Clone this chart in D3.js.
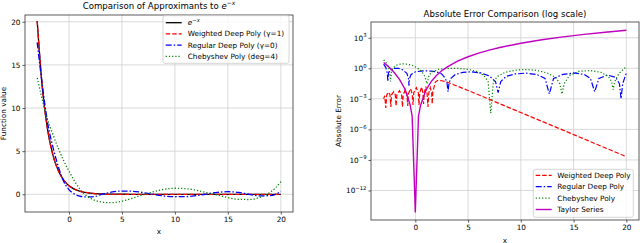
<!DOCTYPE html>
<html>
<head>
<meta charset="utf-8">
<script src="https://cdn.jsdelivr.net/npm/d3@7"></script>
<style>
  body { margin: 0; background: #fff; }
  svg { display: block; font-family: "DejaVu Sans", sans-serif; }
</style>
</head>
<body>
<svg id="chart" width="640" height="243"></svg>
<script>
// ---- left panel: approximant values ----
const xs = [-3, -2.5, -2, -1.5, -1, -0.5, 0, 0.5, 1, 1.5, 2, 2.5, 3, 3.5, 4, 5, 6, 7, 8, 9, 10, 11, 12, 13, 14, 15, 16, 17, 18, 19, 19.5, 20];
const expVals = [20.09, 12.18, 7.39, 4.48, 2.72, 1.65, 1.0, 0.61, 0.37, 0.22, 0.14, 0.08, 0.05, 0.03, 0.02, 0.01, 0, 0, 0, 0, 0, 0, 0, 0, 0, 0, 0, 0, 0, 0, 0, 0];
const weightedVals = [20.08, 12.19, 7.38, 4.49, 2.71, 1.66, 0.99, 0.62, 0.36, 0.23, 0.13, 0.05, 0.01, 0, 0, 0, 0, 0, 0, 0, 0, 0, 0, 0, 0, 0, 0, 0, 0, 0, 0, 0];
const regularVals = [17.6, 12.5, 8.2, 5.4, 3.2, 1.5, 0.55, 0.05, -0.2, -0.3, -0.3, -0.25, -0.03, 0.12, 0.25, 0.38, 0.35, 0.2, -0.02, -0.2, -0.28, -0.27, -0.15, 0.03, 0.22, 0.3, 0.22, 0.0, -0.18, -0.15, 0.0, 0.35];
const chebVals = [13.5, 10.9, 8.6, 6.9, 5.3, 3.9, 2.7, 1.6, 0.65, 0.0, -0.45, -0.72, -0.88, -0.96, -0.97, -0.8, -0.45, -0.05, 0.3, 0.58, 0.7, 0.66, 0.47, 0.2, -0.08, -0.38, -0.58, -0.6, -0.35, 0.25, 0.75, 1.46];
const leftXTicks = [0, 5, 10, 15, 20];
const leftYTicks = [0, 5, 10, 15, 20];

// ---- right panel: absolute errors ----
const weightedErrX = [-3, -2.9, -2.8, -2.7, -2.55, -2.4, -2.32, -2.25, -2.05, -1.9, -1.82, -1.75, -1.5, -1.3, -1.22, -1.15, -0.95, -0.8, -0.72, -0.65, -0.45, -0.3, -0.22, -0.15, 0.1, 0.28, 0.35, 0.42, 0.6, 0.72, 0.78, 0.85, 1.0, 1.12, 1.2, 1.28, 1.42, 1.55, 1.6, 1.66, 1.9, 2.1, 2.5, 3, 5, 10, 15, 20];
const weightedErr = [1e-3, 2e-3, 1.3e-4, 2.5e-3, 4.5e-3, 2.5e-3, 1.6e-4, 2.5e-3, 5e-3, 2.5e-3, 2e-4, 2.5e-3, 6.3e-3, 2.5e-3, 1.6e-4, 2.5e-3, 8e-3, 3.2e-3, 2e-4, 3.2e-3, 0.01, 3.2e-3, 2.5e-4, 4e-3, 0.0126, 4e-3, 2.5e-4, 4e-3, 0.014, 4e-3, 3.2e-4, 4e-3, 0.016, 3.2e-3, 1.6e-4, 4e-3, 0.0126, 4e-3, 3.2e-4, 5e-3, 0.045, 0.063, 0.06, 0.045, 6.7e-3, 4.5e-5, 3.1e-7, 2.1e-9];

const regularErrX = [-3, -2.8, -2.65, -2.6, -2.55, -2.4, -2.0, -1.6, -1.2, -0.8, -0.65, -0.6, -0.55, -0.4, 0, 0.5, 1.0, 1.5, 2.0, 2.5, 2.85, 3.0, 3.1, 3.2, 3.4, 3.8, 4.5, 5.3, 6.2, 7.0, 7.6, 7.85, 8.1, 8.6, 9.5, 10.5, 11.5, 12.3, 12.7, 13.1, 14, 15, 16, 16.6, 17.0, 17.4, 18.2, 19.0, 19.35, 19.5, 19.65, 20];
const regularErr = [2.6, 1.26, 0.32, 0.05, 0.32, 0.71, 1.0, 1.0, 0.71, 0.32, 0.1, 0.02, 0.1, 0.25, 0.45, 0.54, 0.56, 0.54, 0.45, 0.28, 0.1, 0.04, 0.005, 0.04, 0.11, 0.25, 0.4, 0.45, 0.35, 0.18, 0.05, 0.004, 0.05, 0.16, 0.28, 0.34, 0.25, 0.1, 0.003, 0.1, 0.25, 0.35, 0.25, 0.1, 0.005, 0.1, 0.22, 0.13, 0.03, 0.001, 0.03, 0.35];

const chebErrX = [-3, -2.8, -2.6, -2.45, -2.35, -2.25, -2.1, -1.8, -1.3, -0.8, -0.3, 0.2, 0.6, 0.9, 1.1, 1.3, 1.6, 2.2, 3, 4, 5, 5.8, 6.5, 6.9, 7.15, 7.4, 7.8, 8.5, 9.5, 10.5, 11.5, 12.5, 13.3, 13.7, 13.9, 14.1, 14.6, 15.5, 16.6, 17.6, 18.3, 18.6, 18.75, 18.9, 19.3, 20];
const chebErr = [6.6, 4.0, 1.8, 0.63, 0.05, 0.5, 1.1, 2.0, 2.8, 2.6, 2.0, 1.1, 0.5, 0.16, 0.03, 0.2, 0.45, 0.8, 1.0, 1.0, 0.8, 0.5, 0.2, 0.05, 4e-5, 0.05, 0.16, 0.4, 0.66, 0.76, 0.63, 0.35, 0.13, 0.03, 0.003, 0.03, 0.2, 0.5, 0.6, 0.4, 0.16, 0.05, 0.008, 0.05, 0.32, 1.45];

const taylorErrX = [-3, -2.5, -2, -1.5, -1, -0.5, -0.3, 0, 0.3, 0.5, 1, 1.5, 2, 2.5, 3, 4, 5, 6, 7, 8, 10, 12, 14, 16, 18, 20];
const taylorErr = [3.7, 1.33, 0.39, 0.083, 0.01, 2.8e-4, 2e-5, 7e-15, 2e-5, 2.4e-4, 7.1e-3, 0.05, 0.2, 0.57, 1.33, 5.0, 13.7, 31, 61.4, 110, 291, 637, 1228, 2161, 3547, 5514];

const rightXTicks = [0, 5, 10, 15, 20];
const rightYTicks = [1e3, 1, 1e-3, 1e-6, 1e-9, 1e-12];

const leftSeries = [
  { name: "exp", vals: expVals, color: "#000000", dash: null, width: 1.3 },
  { name: "Weighted Deep Poly (γ=1)", vals: weightedVals, color: "#ff0000", dash: "4.5,2", width: 1.3 },
  { name: "Regular Deep Poly (γ=0)", vals: regularVals, color: "#0000ff", dash: "6,2,1.5,2", width: 1.3 },
  { name: "Chebyshev Poly (deg=4)", vals: chebVals, color: "#008000", dash: "1.2,2", width: 1.3 }
];

const rightSeries = [
  { name: "Weighted Deep Poly", xs: weightedErrX, vals: weightedErr, color: "#ff0000", dash: "4.5,2", width: 1.2 },
  { name: "Regular Deep Poly", xs: regularErrX, vals: regularErr, color: "#0000ff", dash: "6,2,1.5,2", width: 1.2 },
  { name: "Chebyshev Poly", xs: chebErrX, vals: chebErr, color: "#008000", dash: "1.2,2", width: 1.2 },
  { name: "Taylor Series", xs: taylorErrX, vals: taylorErr, color: "#bf00bf", dash: null, width: 1.4 }
];

const svg = d3.select("#chart");
const FONT = 7.3;
const SUP = 5.3;

// ---------- left panel ----------
const L = { left: 25, right: 293, top: 15, bottom: 212 };
const lx = d3.scaleLinear().domain([-4.15, 21.15]).range([L.left, L.right]);
const ly = d3.scaleLinear().domain([-2.05, 20.78]).range([L.bottom, L.top]);

const lg = svg.append("g");

// grid
lg.selectAll(".gx").data(leftXTicks).enter().append("line")
  .attr("x1", d => lx(d)).attr("x2", d => lx(d))
  .attr("y1", L.top).attr("y2", L.bottom)
  .attr("stroke", "#d0d0d0").attr("stroke-width", 0.8);
lg.selectAll(".gy").data(leftYTicks).enter().append("line")
  .attr("x1", L.left).attr("x2", L.right)
  .attr("y1", d => ly(d)).attr("y2", d => ly(d))
  .attr("stroke", "#d0d0d0").attr("stroke-width", 0.8);

const lineL = d3.line().x((d, i) => lx(xs[i])).y(d => ly(d)).curve(d3.curveMonotoneX);

svg.append("clipPath").attr("id", "lclip").append("rect")
  .attr("x", L.left).attr("y", L.top).attr("width", L.right - L.left).attr("height", L.bottom - L.top);

lg.selectAll(".series").data(leftSeries).enter().append("path")
  .attr("clip-path", "url(#lclip)")
  .attr("d", d => lineL(d.vals))
  .attr("fill", "none")
  .attr("stroke", d => d.color)
  .attr("stroke-width", d => d.width)
  .attr("stroke-dasharray", d => d.dash);

// axes
lg.append("g").attr("transform", `translate(0,${L.bottom})`)
  .call(d3.axisBottom(lx).tickValues(leftXTicks).tickSize(2.5).tickPadding(2));
lg.append("g").attr("transform", `translate(${L.left},0)`)
  .call(d3.axisLeft(ly).tickValues(leftYTicks).tickSize(2.5).tickPadding(2));

lg.append("rect")
  .attr("x", L.left).attr("y", L.top)
  .attr("width", L.right - L.left).attr("height", L.bottom - L.top)
  .attr("fill", "none").attr("stroke", "#333").attr("stroke-width", 0.8);

// titles and labels
const lt = lg.append("text").attr("x", (L.left + L.right) / 2).attr("y", 8.5)
  .attr("text-anchor", "middle").attr("font-size", 8.6);
lt.append("tspan").text("Comparison of Approximants to ");
lt.append("tspan").attr("font-style", "italic").text("e");
lt.append("tspan").attr("font-size", 6).attr("dy", -3.5).text("−");
lt.append("tspan").attr("font-size", 6).attr("font-style", "italic").text("x");

lg.append("text").attr("x", (L.left + L.right) / 2).attr("y", 234)
  .attr("text-anchor", "middle").attr("font-size", FONT).text("x");
lg.append("text").attr("transform", `translate(6,${(L.top + L.bottom) / 2}) rotate(-90)`)
  .attr("text-anchor", "middle").attr("font-size", FONT).text("Function value");

// legend
const legL = lg.append("g").attr("transform", "translate(163,15.7)");
legL.append("rect").attr("width", 126).attr("height", 47.6).attr("rx", 2)
  .attr("fill", "white").attr("fill-opacity", 0.8).attr("stroke", "#cccccc").attr("stroke-width", 0.8);
leftSeries.forEach((s, i) => {
  const yy = 7 + i * 11.2;
  legL.append("line").attr("x1", 2.7).attr("x2", 18.7).attr("y1", yy).attr("y2", yy)
    .attr("stroke", s.color).attr("stroke-width", s.width).attr("stroke-dasharray", s.dash);
  const t = legL.append("text").attr("x", 24.7).attr("y", yy + 2.6).attr("font-size", FONT);
  if (i === 0) {
    t.append("tspan").attr("font-style", "italic").text("e");
    t.append("tspan").attr("font-size", SUP).attr("dy", -3).text("−");
    t.append("tspan").attr("font-size", SUP).attr("font-style", "italic").text("x");
  } else {
    t.text(s.name);
  }
});

// ---------- right panel ----------
const R = { left: 371, right: 639, top: 22, bottom: 220 };
const rx = d3.scaleLinear().domain([-4.2, 21.2]).range([R.left, R.right]);
const ry = d3.scaleLog().domain([Math.pow(10, -14.9), Math.pow(10, 4.55)]).range([R.bottom, R.top]);

const rg = svg.append("g");

rg.selectAll(".gx").data(rightXTicks).enter().append("line")
  .attr("x1", d => rx(d)).attr("x2", d => rx(d))
  .attr("y1", R.top).attr("y2", R.bottom)
  .attr("stroke", "#d0d0d0").attr("stroke-width", 0.8);
rg.selectAll(".gy").data(rightYTicks).enter().append("line")
  .attr("x1", R.left).attr("x2", R.right)
  .attr("y1", d => ry(d)).attr("y2", d => ry(d))
  .attr("stroke", "#d0d0d0").attr("stroke-width", 0.8);

svg.append("clipPath").attr("id", "rclip").append("rect")
  .attr("x", R.left).attr("y", R.top).attr("width", R.right - R.left).attr("height", R.bottom - R.top);

rg.selectAll(".series").data(rightSeries).enter().append("path")
  .attr("clip-path", "url(#rclip)")
  .attr("d", s => d3.line().x((d, i) => rx(s.xs[i])).y(d => ry(d))(s.vals))
  .attr("fill", "none")
  .attr("stroke", d => d.color)
  .attr("stroke-width", d => d.width)
  .attr("stroke-dasharray", d => d.dash);

rg.append("g").attr("transform", `translate(0,${R.bottom})`)
  .call(d3.axisBottom(rx).tickValues(rightXTicks).tickSize(2.5).tickPadding(2));

// y axis with power-of-ten labels
rg.append("g").attr("transform", `translate(${R.left},0)`)
  .call(d3.axisLeft(ry).tickValues(rightYTicks).tickSize(2.5).tickFormat(""));
rightYTicks.forEach(v => {
  const p = Math.round(Math.log10(v));
  const t = rg.append("text").attr("x", R.left - 4.5).attr("y", ry(v) + 2.8)
    .attr("text-anchor", "end").attr("font-size", FONT);
  t.append("tspan").text("10");
  t.append("tspan").attr("font-size", SUP).attr("dy", -3.6).text(p < 0 ? "−" + (-p) : String(p));
});

rg.append("rect")
  .attr("x", R.left).attr("y", R.top)
  .attr("width", R.right - R.left).attr("height", R.bottom - R.top)
  .attr("fill", "none").attr("stroke", "#333").attr("stroke-width", 0.8);

rg.append("text").attr("x", (R.left + R.right) / 2).attr("y", 17)
  .attr("text-anchor", "middle").attr("font-size", 8.6).text("Absolute Error Comparison (log scale)");
rg.append("text").attr("x", (R.left + R.right) / 2).attr("y", 242.5)
  .attr("text-anchor", "middle").attr("font-size", FONT).text("x");
rg.append("text").attr("transform", `translate(340.5,${(R.top + R.bottom) / 2}) rotate(-90)`)
  .attr("text-anchor", "middle").attr("font-size", FONT).text("Absolute Error");

const legR = rg.append("g").attr("transform", "translate(533.3,169.3)");
legR.append("rect").attr("width", 100).attr("height", 48).attr("rx", 2)
  .attr("fill", "white").attr("fill-opacity", 0.8).attr("stroke", "#cccccc").attr("stroke-width", 0.8);
rightSeries.forEach((s, i) => {
  const yy = 6 + i * 11.4;
  legR.append("line").attr("x1", 2.4).attr("x2", 18.4).attr("y1", yy).attr("y2", yy)
    .attr("stroke", s.color).attr("stroke-width", s.width).attr("stroke-dasharray", s.dash);
  legR.append("text").attr("x", 24).attr("y", yy + 2.6).attr("font-size", FONT).text(s.name);
});

// axis styling
svg.selectAll(".domain").remove();
svg.selectAll(".tick line").attr("stroke", "#333").attr("stroke-width", 0.8);
svg.selectAll(".tick text").attr("font-size", FONT).attr("font-family", "DejaVu Sans").attr("fill", "#000");
</script>
</body>
</html>
